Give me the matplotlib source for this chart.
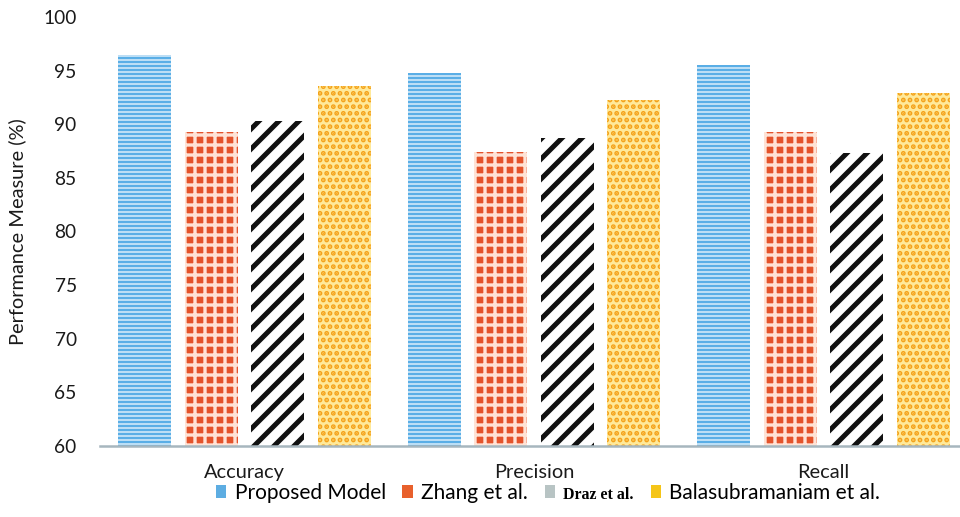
import matplotlib
matplotlib.use("Agg")
import matplotlib.pyplot as plt
import numpy as np
from matplotlib.patches import Patch

plt.rcParams['font.family'] = ['Lato', 'DejaVu Sans']

categories = ["Accuracy", "Precision", "Recall"]
series_names = ["Proposed Model", "Zhang et al.", "Draz et al.", "Balasubramaniam et al."]
proposed = [96.5, 94.8, 95.5]
zhang = [89.3, 87.4, 89.3]
draz = [90.3, 88.7, 87.3]
bala = [93.6, 92.3, 92.9]
yticks = [60, 65, 70, 75, 80, 85, 90, 95, 100]

values = [proposed, zhang, draz, bala]
# face colour, hatch colour, hatch pattern, hatch line width
styles = [
    ("#eef7fd", "#5aaee6", "-----", 1.6),
    ("#e4532b", "#ffe3d6", "++", 2.0),
    ("#ffffff", "#111111", "//", 3.0),
    ("#ffe99a", "#f4a21a", "...", 2.0),
]
legend_colors = ["#5dade2", "#e8602c", "#b8c4c4", "#f5c518"]

fig = plt.figure(figsize=(8.0, 517 / 120), dpi=120)
ax = fig.add_axes([100 / 960, 71 / 517, 868 / 960, 429 / 517])

x = np.arange(len(categories))
width = 0.183
offsets = [-0.345, -0.115, 0.115, 0.345]

for vals, off, (fc, hc, hatch, hlw) in zip(values, offsets, styles):
    with plt.rc_context({'hatch.linewidth': hlw, 'hatch.color': hc}):
        bars = ax.bar(x + off, np.array(vals) - 60, width, bottom=60,
                      color=fc, edgecolor=hc, hatch=hatch, linewidth=0)
        for b in bars:
            if hasattr(b, "set_hatch_linewidth"):
                b.set_hatch_linewidth(hlw)

ax.set_xlim(-0.5, 2.5)
ax.set_ylim(60, 100)
ax.set_yticks(yticks)
ax.set_yticklabels([str(t) for t in yticks], fontsize=11.5, color="#1a1a1a")
ax.set_xticks(x)
ax.set_xticklabels(categories, fontsize=12, color="#1a1a1a")
ax.tick_params(axis='y', length=0, pad=14)
ax.tick_params(axis='x', length=0, pad=11)
ax.set_ylabel("Performance Measure (%)", fontsize=12, color="#1a1a1a", labelpad=10)

for side in ["top", "right", "left"]:
    ax.spines[side].set_visible(False)
ax.spines["bottom"].set_color("#a7b6be")
ax.spines["bottom"].set_linewidth(1.5)

handles = [Patch(facecolor=c, edgecolor="none") for c in legend_colors]
leg = fig.legend(handles, series_names, loc="center", bbox_to_anchor=(548 / 960, 1 - 493 / 517),
                 ncol=4, frameon=False, fontsize=12.5, handlelength=0.5, handleheight=0.55,
                 handletextpad=0.4, columnspacing=0.8)
draz_text = leg.get_texts()[2]
draz_text.set_family(["Liberation Serif", "DejaVu Serif"])
draz_text.set_fontweight("bold")
draz_text.set_fontsize(9.5)

fig.savefig("out.png", dpi=120)
